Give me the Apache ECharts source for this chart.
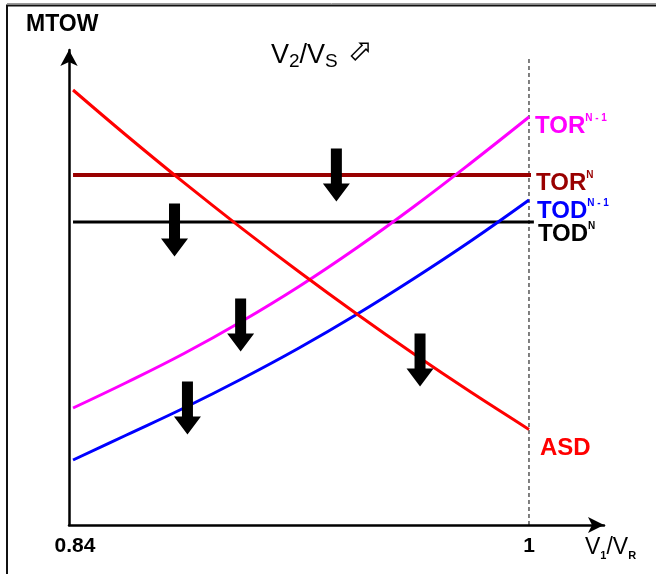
<!DOCTYPE html>
<html><head><meta charset="utf-8">
<script src="https://cdn.jsdelivr.net/npm/echarts@6/dist/echarts.min.js"></script>
<style>html,body{margin:0;padding:0;background:#fff}#c{width:656px;height:574px}</style>
</head><body><div id="c"></div>
<script>
// V1/VR positions where the curves were read
const vRatio = [0.8414, 0.86, 0.88, 0.90, 0.92, 0.94, 0.96, 0.98, 1.0];
// MTOW (arbitrary units)
const asd   = [435, 389.5, 342.3, 296.9, 253.2, 211.2, 170.9, 132.4, 95.6];
const torN1 = [117, 142.5, 171.5, 203.5, 238.5, 277, 318.5, 362.5, 408];
const todN1 = [65, 90, 117, 146, 177, 210.5, 246.5, 284.5, 325];
// horizontal limits (all-engines)
const torNx = [0.8414, 1.0007];
const torN  = [350, 350];
const todNx = [0.8414, 1.0017];
const todN  = [303, 303];
// vertical reference at V1/VR = 1
const refX = [1, 1];
const refY = [0, 467];
// down arrows (effect of increasing V2/VS)
const arrowX = [0.9330, 0.8767, 0.8997, 0.8812, 0.9621];
const arrowY = [350, 295, 200, 117, 165];
// tick labels
const xTicks = [0.84, 1];

const FF = "'Liberation Sans', Arial, sans-serif";
const pair = (xs, ys) => xs.map((x, i) => [x, ys[i]]);

function endLbl(main, sup, color, offset) {
  return {
    show: true,
    formatter: sup ? '{m|' + main + '}{s|' + sup + '}' : '{m|' + main + '}',
    offset: offset,
    distance: 0,
    rich: {
      m: {fontSize: 24, fontWeight: 'bold', color: color, fontFamily: FF, lineHeight: 26},
      s: {fontSize: 10, fontWeight: 'bold', color: color, fontFamily: FF, lineHeight: 20, verticalAlign: 'top'}
    }
  };
}

const chart = echarts.init(document.getElementById('c'), null, {renderer: 'canvas'});
chart.setOption({
  animation: false,
  backgroundColor: '#fff',
  grid: {left: 69, right: 52, top: 50, bottom: 49},
  xAxis: {
    type: 'value', min: 0.84, max: 1.02609,
    splitLine: {show: false},
    axisTick: {show: false},
    axisLine: {show: true, symbol: ['none', 'arrow'], symbolSize: [12, 16], lineStyle: {color: '#000', width: 2.5}},
    axisLabel: {
      customValues: xTicks,
      margin: 11,
      formatter: v => (Math.abs(v - 0.84) < 1e-6 ? '{a|0.84}' : '{b|1}'),
      rich: {
        a: {fontSize: 21, fontWeight: 'bold', color: '#000', fontFamily: FF, padding: [0, 0, 0, 12]},
        b: {fontSize: 21, fontWeight: 'bold', color: '#000', fontFamily: FF}
      }
    }
  },
  yAxis: {
    type: 'value', min: 0, max: 475,
    splitLine: {show: false},
    axisTick: {show: false},
    axisLabel: {show: false},
    axisLine: {show: true, symbol: ['none', 'arrow'], symbolSize: [13, 16], lineStyle: {color: '#000', width: 2.5}}
  },
  graphic: [
    {type: 'polyline', silent: true, shape: {points: [[7, 574], [7, 5.5], [656, 5.5]]}, style: {stroke: '#111', lineWidth: 2, fill: null}},
    {type: 'line', silent: true, shape: {x1: 7, y1: 3.5, x2: 656, y2: 3.5}, style: {stroke: '#999', lineWidth: 1}},
    {type: 'text', silent: true, style: {x: 26, y: 25, text: 'MTOW', font: "bold 23px " + FF, fill: '#000', verticalAlign: 'middle', align: 'left'}},
    {type: 'text', silent: true, style: {
      x: 271, y: 56, verticalAlign: 'middle', align: 'left',
      text: '{v|V}{s|2}{v|/V}{s|S}{i|⬀}',
      rich: {
        v: {fontSize: 27, fontFamily: FF, fill: '#000', lineHeight: 30},
        s: {fontSize: 19, fontFamily: FF, fill: '#000', lineHeight: 30, verticalAlign: 'bottom'},
        i: {fontSize: 30, fontFamily: "'DejaVu Sans', sans-serif", fill: '#000', lineHeight: 30, padding: [0, 0, 8, 10]}
      }
    }},
    {type: 'text', silent: true, style: {
      x: 585, y: 548, verticalAlign: 'middle', align: 'left',
      text: '{v|V}{s|1}{v|/V}{s|R}',
      rich: {
        v: {fontSize: 23, fontFamily: FF, fill: '#000', lineHeight: 26},
        s: {fontSize: 11, fontWeight: 'bold', fontFamily: FF, fill: '#000', lineHeight: 26, verticalAlign: 'bottom'}
      }
    }}
  ],
  series: [
    {type: 'line', data: pair(refX, refY), symbol: 'none', silent: true,
     lineStyle: {color: '#000', width: 1, type: [4, 3]}, z: 1},
    {type: 'line', name: 'TOR N', data: pair(torNx, torN), symbol: 'none',
     lineStyle: {color: '#990000', width: 4}, endLabel: endLbl('TOR', 'N', '#990000', [5, 8])},
    {type: 'line', name: 'TOD N', data: pair(todNx, todN), symbol: 'none',
     lineStyle: {color: '#000', width: 3}, endLabel: endLbl('TOD', 'N', '#000', [4, 12])},
    {type: 'line', name: 'TOR N-1', data: pair(vRatio, torN1), symbol: 'none', smooth: 0.4,
     lineStyle: {color: '#ff00ff', width: 3}, endLabel: endLbl('TOR', 'N - 1', '#ff00ff', [6, 9])},
    {type: 'line', name: 'TOD N-1', data: pair(vRatio, todN1), symbol: 'none', smooth: 0.4,
     lineStyle: {color: '#0000ff', width: 3}, endLabel: endLbl('TOD', 'N - 1', '#0000ff', [8, 11])},
    {type: 'line', name: 'ASD', data: pair(vRatio, asd), symbol: 'none', smooth: 0.4,
     lineStyle: {color: '#ff0000', width: 3}, endLabel: endLbl('ASD', '', '#ff0000', [11, 19])},
    {type: 'scatter', data: pair(arrowX, arrowY), silent: true, z: 5,
     symbol: 'path://M8,0 L19,0 L19,35 L27,35 L13.5,53 L0,35 L8,35 Z',
     symbolSize: [27, 53], symbolKeepAspect: false,
     itemStyle: {color: '#000', opacity: 1}}
  ]
});
</script>
</body></html>
